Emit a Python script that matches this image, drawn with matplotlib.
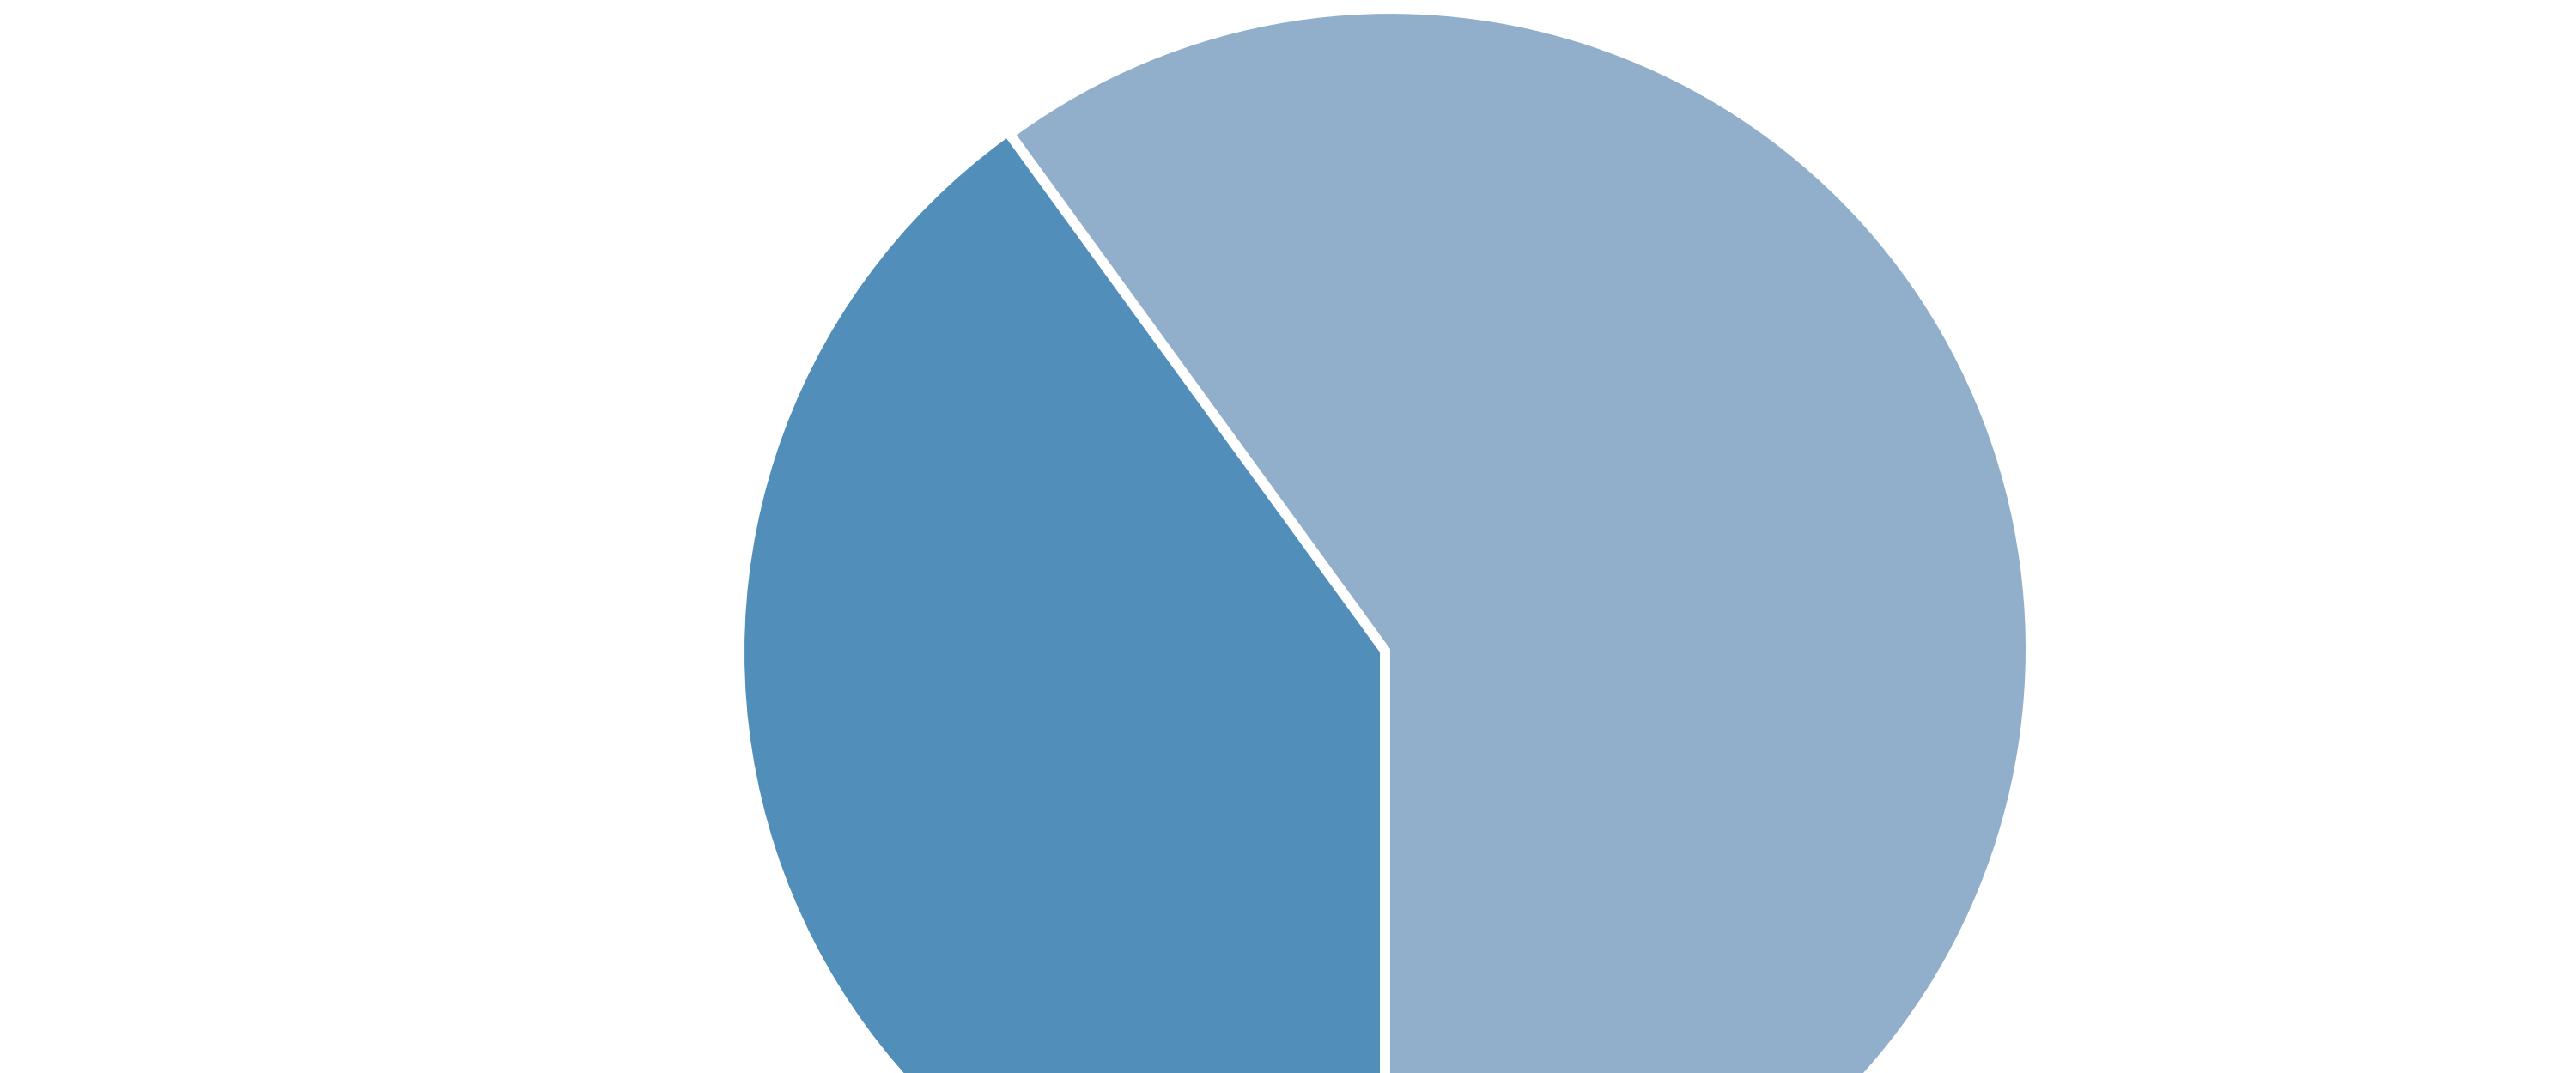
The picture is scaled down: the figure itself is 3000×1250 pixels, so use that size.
# two-slice pie, centred left of middle and cut off at the bottom edge
import matplotlib

matplotlib.use("Agg")
import matplotlib.pyplot as plt

labels = ["Light", "Dark"]
values = [60, 40]
colors = ["#91afcb", "#528eba"]
explode = [0.0085, 0.0085]

fig = plt.figure(figsize=(30, 12.5), dpi=100)
ax = fig.add_axes([0, 0, 1, 1])

ax.pie(
    values,
    colors=colors,
    explode=explode,
    startangle=-90,
    counterclock=True,
    radius=1.0,
    wedgeprops=dict(linewidth=0),
)

# 740 px per data unit, centre at pixel (1613, 758)
ax.set_xlim(-1613 / 740, (3000 - 1613) / 740)
ax.set_ylim(-(1250 - 758) / 740, 758 / 740)
ax.set_aspect("equal")
ax.axis("off")

fig.savefig("out.png", dpi=100, facecolor="white")
